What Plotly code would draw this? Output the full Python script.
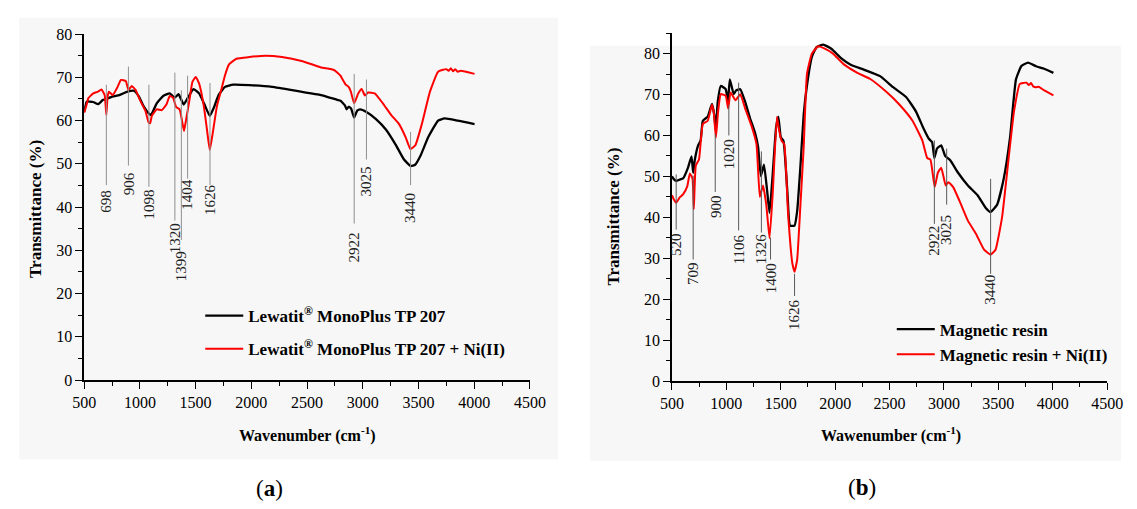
import plotly.graph_objects as go

W, H = 1137, 509

# ---------------- Panel (a) data ----------------
a_black_x = [500, 523, 549, 581, 625, 669, 699, 757, 815, 888, 947, 990, 1034, 1078, 1098, 1115,
             1151, 1209, 1268, 1312, 1347, 1393, 1428, 1481, 1531, 1580, 1627, 1662, 1706, 1764,
             1837, 1983, 2187, 2420, 2625, 2771, 2800, 2840, 2855, 2873, 2895, 2922, 2950, 2976,
             3033, 3121, 3209, 3296, 3370, 3430, 3470, 3520, 3588, 3676, 3734, 3851, 4003]
a_black_y = [62.1, 64.4, 64.4, 64.3, 63.8, 64.8, 65.0, 65.6, 65.9, 66.7, 66.9, 65.6, 63.3, 61.7, 61.3, 62.0,
             64.0, 65.7, 66.3, 65.3, 66.1, 63.7, 65.2, 67.3, 66.3, 63.7, 61.1, 62.9, 65.9, 67.8,
             68.3, 68.2, 67.8, 66.8, 65.9, 64.8, 64.6, 63.5, 62.6, 63.2, 62.8, 60.7, 62.3, 62.6,
             62.0, 60.3, 57.9, 54.4, 51.0, 49.5, 49.8, 52.0, 56.2, 60.0, 60.5, 60.0, 59.2]

a_red_x = [500, 520, 538, 581, 625, 655, 684, 699, 710, 722, 757, 800, 830, 874, 897, 926, 961,
           1005, 1049, 1078, 1092, 1107, 1151, 1195, 1238, 1268, 1297, 1326, 1356, 1378, 1396, 1413,
           1443, 1472, 1501, 1531, 1574, 1603, 1627, 1653, 1691, 1726, 1764, 1800, 1866, 1983,
           2129, 2275, 2450, 2625, 2742, 2800, 2815, 2844, 2873, 2893, 2923, 2960, 2990, 3019,
           3048, 3107, 3180, 3252, 3326, 3384, 3428, 3472, 3530, 3603, 3676, 3749, 3770, 3790,
           3810, 3830, 3851, 3880, 4003]
a_red_y = [61.8, 63.5, 65.2, 66.3, 66.7, 67.2, 65.9, 61.3, 65.5, 66.7, 65.9, 67.8, 69.4, 69.1, 67.1, 68.0, 67.1,
           64.5, 62.3, 59.6, 59.4, 61.1, 62.6, 62.4, 63.7, 65.7, 65.3, 63.1, 62.6, 60.0, 57.6, 60.0,
           64.5, 69.0, 70.1, 68.6, 63.3, 57.7, 53.2, 57.0, 63.3, 66.7, 70.5, 73.0, 74.3, 74.7,
           75.0, 74.7, 73.8, 72.3, 71.7, 70.4, 69.7, 68.4, 67.8, 66.7, 64.0, 66.3, 67.3, 65.8,
           66.5, 66.3, 64.0, 61.4, 59.2, 56.2, 53.4, 54.3, 59.2, 66.7, 71.3, 71.9, 71.5, 72.1,
           71.4, 71.9, 71.3, 71.5, 70.8]

a_peak_labels = ["698", "906", "1098", "1320", "1399", "1404", "1626", "2922", "3025", "3440"]
a_peak_pos = [699, 897, 1081, 1314, 1372, 1428, 1629, 2923, 3033, 3429]
a_line_top = [68.3, 72.5, 68.3, 71.1, 67.0, 70.4, 68.7, 70.8, 69.5, 57.4]
a_line_bottom = [45.1, 49.6, 44.7, 36.9, 32.4, 46.6, 45.1, 36.2, 51.0, 45.1]
a_text_y = [41.3, 45.4, 40.6, 32.8, 26.4, 43.0, 41.9, 30.7, 46.0, 39.7]

# ---------------- Panel (b) data ----------------
b_black_x = [500, 515, 539, 570, 602, 647, 680, 695, 710, 740, 764, 784, 829, 868, 889, 904, 920,
             949, 994, 1015, 1032, 1068, 1090, 1128, 1173, 1218, 1263, 1292, 1317, 1346, 1376, 1397,
             1427, 1457, 1478, 1501, 1525, 1561, 1585, 1627, 1651, 1681, 1711, 1741, 1786, 1830,
             1890, 1965, 2054, 2143, 2263, 2413, 2532, 2652, 2742, 2816, 2861, 2891, 2912, 2936,
             2975, 3011, 3056, 3130, 3220, 3309, 3384, 3429, 3489, 3549, 3608, 3662, 3713, 3773,
             3847, 3922, 4006]
b_black_y = [50.0, 49.4, 48.9, 49.2, 49.5, 52.1, 54.9, 50.9, 54.0, 57.5, 58.8, 63.6, 64.6, 67.7, 65.0, 61.0, 68.0,
             72.1, 71.3, 68.2, 73.7, 70.1, 71.0, 71.3, 68.2, 64.2, 60.7, 57.2, 50.1, 52.9, 46.2, 41.1,
             50.9, 61.9, 64.6, 59.5, 58.7, 46.2, 38.0, 38.0, 41.5, 52.5, 65.1, 72.2, 79.2, 81.6,
             82.2, 81.2, 78.9, 77.3, 76.1, 74.5, 71.8, 69.4, 65.9, 61.5, 59.2, 58.4, 54.5, 56.8,
             57.6, 55.0, 54.0, 50.9, 47.8, 45.4, 42.3, 41.3, 43.1, 49.4, 59.6, 73.7, 77.0, 77.8,
             76.9, 76.3, 75.3]

b_red_x = [500, 515, 539, 570, 602, 640, 665, 689, 701, 719, 749, 784, 829, 868, 885, 904, 925,
           949, 994, 1017, 1039, 1084, 1128, 1173, 1233, 1277, 1308, 1337, 1367, 1397, 1427, 1465,
           1487, 1508, 1532, 1568, 1606, 1627, 1651, 1681, 1711, 1741, 1786, 1845, 1905, 1980,
           2084, 2204, 2323, 2473, 2592, 2711, 2801, 2846, 2876, 2915, 2944, 2975, 3016, 3040,
           3085, 3145, 3220, 3294, 3369, 3429, 3474, 3534, 3593, 3644, 3698, 3758, 3780, 3800,
           3820, 3847, 3870, 3922, 4006]
b_red_y = [45.4, 44.5, 43.6, 44.8, 45.6, 47.5, 50.7, 49.5, 42.0, 52.6, 54.2, 62.8, 63.6, 67.5, 65.5, 59.5, 66.0,
           70.1, 69.7, 66.6, 70.5, 68.6, 70.1, 66.6, 62.2, 57.9, 45.0, 47.8, 43.1, 34.9, 46.2, 64.6,
           61.0, 58.7, 57.9, 40.6, 28.9, 26.7, 29.7, 43.1, 57.2, 75.0, 80.0, 81.8, 81.2, 80.0,
           77.3, 75.3, 73.8, 70.6, 67.5, 63.6, 58.8, 54.5, 54.1, 47.4, 50.9, 52.1, 47.8, 48.6,
           47.4, 43.9, 39.2, 36.0, 32.1, 30.9, 32.1, 40.0, 54.1, 65.9, 72.6, 72.9, 72.3, 72.8,
           72.0, 71.8, 71.9, 71.0, 69.8]

b_peak_labels = ["520", "709", "900", "1020", "1106", "1326", "1400", "1626", "2922", "3025", "3440"]
b_peak_pos = [539, 695, 898, 1023, 1113, 1322, 1406, 1627, 2912, 3025, 3429]
b_line_top = [50.5, 50.2, 60.4, 67.5, 72.9, 56.1, 35.0, 26.2, 58.8, 56.8, 49.4]
b_line_bottom = [37.0, 29.7, 46.2, 60.0, 36.8, 36.3, 29.7, 20.8, 38.4, 43.1, 26.2]
b_text_y = [33.3, 26.2, 42.6, 55.4, 32.1, 32.3, 25.0, 16.3, 34.4, 36.8, 22.2]

series_names_a = ["<b>Lewatit<sup>®</sup> MonoPlus TP 207</b>",
                  "<b>Lewatit<sup>®</sup> MonoPlus TP 207 + Ni(II)</b>"]
series_names_b = ["<b>Magnetic resin</b>", "<b>Magnetic resin + Ni(II)</b>"]

x_ticks = [500, 1000, 1500, 2000, 2500, 3000, 3500, 4000, 4500]
y_ticks = [0, 10, 20, 30, 40, 50, 60, 70, 80]

SERIF = "Liberation Serif"


def px_x(p):
    return p / W


def px_y(p):
    return 1 - p / H


fig = go.Figure()

line_style = dict(shape="spline", smoothing=0.4)
fig.add_trace(go.Scatter(x=a_black_x, y=a_black_y, mode="lines", name=series_names_a[0],
                         line=dict(color="black", width=2.3, **line_style),
                         xaxis="x", yaxis="y", legend="legend", legendgroup="a1"))
fig.add_trace(go.Scatter(x=a_red_x, y=a_red_y, mode="lines", name=series_names_a[1],
                         line=dict(color="#ff0000", width=2, **line_style),
                         xaxis="x", yaxis="y", legend="legend", legendgroup="a2"))
fig.add_trace(go.Scatter(x=b_black_x, y=b_black_y, mode="lines", name=series_names_b[0],
                         line=dict(color="black", width=2.3, **line_style),
                         xaxis="x2", yaxis="y2", legend="legend2", legendgroup="b1"))
fig.add_trace(go.Scatter(x=b_red_x, y=b_red_y, mode="lines", name=series_names_b[1],
                         line=dict(color="#ff0000", width=2, **line_style),
                         xaxis="x2", yaxis="y2", legend="legend2", legendgroup="b2"))

shapes = []
# gray panel backgrounds
shapes.append(dict(type="rect", xref="paper", yref="paper", x0=px_x(7.4), x1=px_x(560),
                   y0=px_y(467), y1=px_y(10), fillcolor="#f7f7f7", line=dict(width=0), layer="below"))
shapes.append(dict(type="rect", xref="paper", yref="paper", x0=px_x(592.4), x1=1.0,
                   y0=px_y(468.5), y1=px_y(39), fillcolor="#f7f7f7", line=dict(width=0), layer="below"))

annotations = []
for lab, xp, t, b, ty in zip(a_peak_labels, a_peak_pos, a_line_top, a_line_bottom, a_text_y):
    shapes.append(dict(type="line", xref="x", yref="y", x0=xp, x1=xp, y0=b, y1=t,
                       line=dict(color="#8f8f8f", width=1), layer="above"))
    annotations.append(dict(x=xp, y=ty, xref="x", yref="y", text=lab, textangle=-90, showarrow=False,
                            xanchor="center", yanchor="middle",
                            font=dict(family=SERIF, size=15, color="#222222")))
for lab, xp, t, b, ty in zip(b_peak_labels, b_peak_pos, b_line_top, b_line_bottom, b_text_y):
    shapes.append(dict(type="line", xref="x2", yref="y2", x0=xp, x1=xp, y0=b, y1=t,
                       line=dict(color="#5a5a5a", width=1), layer="above"))
    annotations.append(dict(x=xp, y=ty, xref="x2", yref="y2", text=lab, textangle=-90, showarrow=False,
                            xanchor="center", yanchor="middle",
                            font=dict(family=SERIF, size=15, color="#222222")))


def paper_text(xp, yp, text, size, angle=0):
    return dict(x=px_x(xp), y=px_y(yp), xref="paper", yref="paper", text=text, textangle=angle,
                showarrow=False, xanchor="center", yanchor="middle",
                font=dict(family=SERIF, size=size, color="black"))


# axis titles
annotations.append(paper_text(302.5, 441.7, "<b>Wavenumber (cm<sup>-1</sup>)</b>", 16))
annotations.append(paper_text(901, 441.7, "<b>Wawenumber (cm<sup>-1</sup>)</b>", 16))
annotations.append(paper_text(24, 207.5, "<b>Transmittance (%)</b>", 17, -90))
annotations.append(paper_text(617, 216, "<b>Transmittance (%)</b>", 17, -90))
# captions
annotations.append(paper_text(263.5, 497, "(<b>a</b>)", 23))
annotations.append(paper_text(871.7, 496, "(<b>b</b>)", 23))


def xaxis_style(domain, anchor):
    return dict(domain=domain, anchor=anchor, range=[500, 4500], tickvals=x_ticks,
                showline=True, linecolor="black", linewidth=1.5, showgrid=False, zeroline=False,
                ticks="outside", ticklen=7, tickwidth=1.2, tickcolor="black",
                minor=dict(ticks="outside", ticklen=4, tickwidth=1.2, tickcolor="black", dtick=250,
                           tick0=500, showgrid=False),
                tickfont=dict(family=SERIF, size=16, color="black"))


def yaxis_style(domain, anchor, rng):
    return dict(domain=domain, anchor=anchor, range=rng, tickvals=y_ticks,
                showline=True, linecolor="black", linewidth=1.5, showgrid=False, zeroline=False,
                ticks="outside", ticklen=7, tickwidth=1.2, tickcolor="black",
                minor=dict(ticks="outside", ticklen=4, tickwidth=1.2, tickcolor="black", dtick=5,
                           tick0=0, showgrid=False),
                tickfont=dict(family=SERIF, size=16, color="black"))


legend_font = dict(family=SERIF, size=17, color="black")

fig.update_layout(
    width=W, height=H, autosize=False,
    margin=dict(l=0, r=0, t=0, b=0),
    paper_bgcolor="white", plot_bgcolor="rgba(0,0,0,0)",
    xaxis=xaxis_style([px_x(74), px_x(531)], "y"),
    yaxis=yaxis_style([px_y(385), px_y(27)], "x", [0, 80]),
    xaxis2=xaxis_style([px_x(676.6), px_x(1122.8)], "y2"),
    yaxis2=yaxis_style([px_y(386), px_y(26)], "x2", [0, 85]),
    legend=dict(x=px_x(193), y=px_y(300), xanchor="left", yanchor="top",
                bgcolor="rgba(0,0,0,0)", font=legend_font, itemwidth=38,
                traceorder="grouped", tracegroupgap=8),
    legend2=dict(x=px_x(902), y=px_y(314), xanchor="left", yanchor="top",
                 bgcolor="rgba(0,0,0,0)", font=legend_font, itemwidth=38,
                 traceorder="grouped", tracegroupgap=0),
    shapes=shapes,
    annotations=annotations,
    showlegend=True,
)

fig.write_html("out.html")
